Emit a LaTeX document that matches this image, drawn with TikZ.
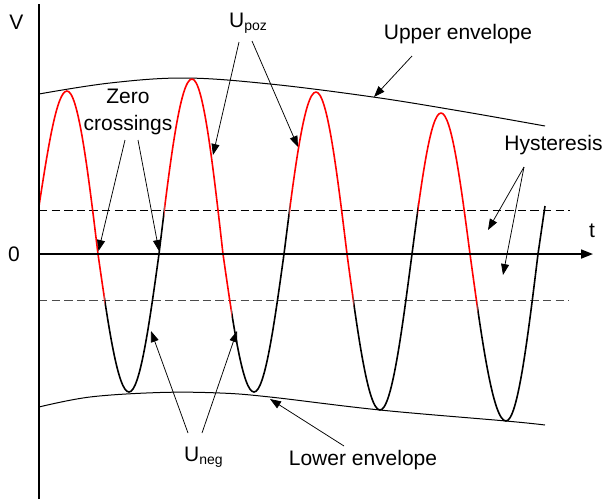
\documentclass[tikz,border=0pt]{standalone}
\usepackage{fontspec}
\setmainfont{Liberation Sans}
\usetikzlibrary{arrows.meta}
\begin{document}
\begin{tikzpicture}[x=1pt,y=-1pt,
  lbl/.style={font=\fontsize{21}{24}\selectfont, inner sep=0pt, anchor=base},
  ptr/.style={-{Triangle[length=11pt,width=8pt]}, line width=0.75pt},
  wave/.style={line width=1.6pt, line join=round},
  env/.style={line width=1pt},
  thr/.style={line width=1.4pt, dash pattern=on 8.3pt off 4.3pt},
  axis/.style={line width=1.7pt},
  wavepath/.style={insert path={(39,206) sin (67,91) cos (98,254) sin (129,392) cos (159,254) sin (192,79) cos (223,254) sin (254,392) cos (284,254) sin (316,92) cos (347,254) sin (380,410) cos (412,254) sin (441,113) cos (470,254) sin (506,421) cos (538,254) -- (545,206)}}]
\useasboundingbox (0,0) rectangle (606,499);

% thresholds
\draw[thr] (39,210.5) -- (570,210.5);
\draw[thr, black!70] (39,300.5) -- (569,300.5);

% envelopes
\draw[env] plot[smooth, tension=0.6] coordinates {(39,94) (110,83) (185,78) (270,84) (373,97) (460,111) (545,126)};
\draw[env] plot[smooth, tension=0.6] coordinates {(39,407) (90,397) (160,392.5) (220,393) (270,397) (380,410) (506,421) (545,425)};

% waveform: black parts
\begin{scope}
  \clip (104.7,0) rectangle (164.3,499) (231.7,0) rectangle (289.6,499)
        (353.3,0) rectangle (417.9,499) (477.4,0) rectangle (560,499);
  \draw[wave, wavepath];
\end{scope}
% waveform: red parts
\begin{scope}
  \clip (30,0) rectangle (104.7,499) (164.3,0) rectangle (231.7,499)
        (289.6,0) rectangle (353.3,499) (417.9,0) rectangle (477.4,499);
  \draw[wave, red, wavepath];
\end{scope}

% axes
\coordinate (o) at (39,254);
\coordinate (ytop) at (39,4);
\coordinate (ybot) at (39,499);
\coordinate (xend) at (593,254);
\draw[axis] (ybot) -- (ytop);
\draw[axis, -{Triangle[length=12pt,width=9pt]}] (o) -- (xend);

% labels
\node[lbl] (V) at (16.5,29) {V};
\node[lbl] (zero) at (14,261.5) {0};
\node[lbl] (t) at (592,237) {t};
\node[lbl] (zc1) at (128,103) {Zero};
\node[lbl] (zc2) at (128,130) {crossings};
\node[lbl, anchor=base west] (upoz) at (229,27) {U\raisebox{-3pt}{\fontsize{14}{14}\selectfont poz}};
\node[lbl, anchor=base west] (uneg) at (184,461) {U\raisebox{-3pt}{\fontsize{14}{14}\selectfont neg}};
\node[lbl] (uenv) at (458,39) {Upper envelope};
\node[lbl] (hyst) at (553.5,150) {Hysteresis};
\node[lbl] (lenv) at (363,465) {Lower envelope};

% arrow coordinates
\coordinate (zcA) at (125,140); \coordinate (zcAe) at (98.5,251);
\coordinate (zcB) at (138,140); \coordinate (zcBe) at (159,251);
\coordinate (upA) at (239,42);  \coordinate (upAe) at (213,155);
\coordinate (upB) at (252,41);  \coordinate (upBe) at (298,147);
\coordinate (ueA) at (412,56);  \coordinate (ueAe) at (374,97);
\coordinate (hyA) at (524,167); \coordinate (hyAe) at (488,230);
\coordinate (hyBe) at (503,275);
\coordinate (unA) at (188,433); \coordinate (unAe) at (151,331);
\coordinate (unB) at (202,433); \coordinate (unBe) at (237,331);
\coordinate (leA) at (344,446); \coordinate (leAe) at (270,399);

\draw[ptr] (zcA) -- (zcAe);
\draw[ptr] (zcB) -- (zcBe);
\draw[ptr] (upA) -- (upAe);
\draw[ptr] (upB) -- (upBe);
\draw[ptr] (ueA) -- (ueAe);
\draw[ptr] (hyA) -- (hyAe);
\draw[ptr] (hyA) -- (hyBe);
\draw[ptr] (unA) -- (unAe);
\draw[ptr] (unB) -- (unBe);
\draw[ptr] (leA) -- (leAe);
\end{tikzpicture}
\end{document}
